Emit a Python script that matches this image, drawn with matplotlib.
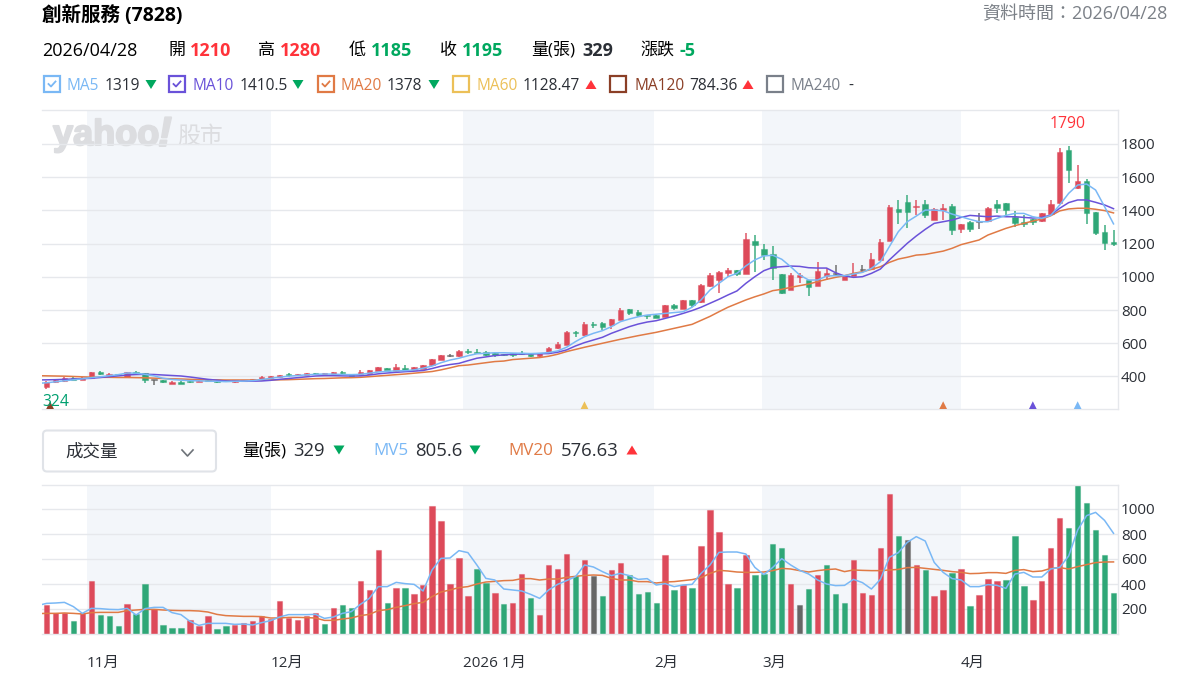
"""K-line and volume panels for 創新服務 (7828)."""

import matplotlib

matplotlib.use("Agg")
import matplotlib.patheffects as pe
import matplotlib.pyplot as plt
import numpy as np
from matplotlib.colors import to_rgba
from matplotlib.patches import FancyBboxPatch, Rectangle

plt.rcParams["font.family"] = ["Open Sans", "Noto Sans CJK TC", "DejaVu Sans"]

# daily candles, one row of ten per block
opens = [
    335, 365, 371, 393, 381, 393, 429, 405, 412, 399,
    429, 421, 377, 377, 357, 369, 371, 368, 375, 373,
    374, 365, 372, 376, 383, 391, 395, 415, 409, 409,
    421, 409, 415, 429, 413, 413, 413, 433, 449, 433,
    451, 437, 448, 469, 500, 525, 522, 550, 548, 550,
    540, 535, 540, 541, 538, 522, 540, 570, 590, 670,
    650, 716, 722, 710, 740, 805, 790, 770, 768, 760,
    832, 807, 860, 847, 943, 981, 1025, 1040, 1020, 1214,
    1168, 1138, 1017, 921, 1000, 979, 945, 1005, 1020, 981,
    1005, 1041, 1045, 1102, 1216, 1409, 1453, 1418, 1439, 1342,
    1403, 1425, 1288, 1332, 1329, 1337, 1437, 1445, 1363, 1332,
    1346, 1337, 1379, 1443, 1762, 1533, 1575, 1391, 1272, 1210,
]
highs = [
    370, 378, 397, 395, 394, 430, 432, 423, 414, 430,
    431, 424, 378, 379, 370, 371, 377, 376, 378, 376,
    378, 379, 380, 384, 400, 403, 412, 419, 417, 422,
    424, 424, 427, 432, 416, 438, 440, 460, 453, 474,
    472, 458, 471, 506, 529, 535, 557, 565, 563, 553,
    542, 538, 542, 555, 540, 541, 576, 606, 672, 672,
    726, 728, 727, 748, 815, 808, 800, 772, 770, 832,
    835, 862, 862, 955, 1021, 1034, 1055, 1042, 1266, 1252,
    1198, 1186, 1020, 1021, 1021, 981, 1092, 1051, 1071, 1013,
    1085, 1071, 1142, 1226, 1433, 1462, 1493, 1462, 1462, 1413,
    1437, 1437, 1318, 1334, 1383, 1419, 1463, 1447, 1395, 1372,
    1348, 1387, 1463, 1778, 1790, 1674, 1592, 1393, 1310, 1280,
]
lows = [
    324, 362, 368, 378, 378, 390, 408, 402, 405, 396,
    412, 363, 349, 363, 355, 356, 362, 366, 370, 361,
    369, 363, 370, 373, 381, 389, 393, 397, 408, 408,
    412, 407, 412, 418, 402, 405, 410, 431, 437, 428,
    431, 434, 446, 465, 498, 515, 520, 535, 535, 525,
    520, 526, 520, 530, 520, 520, 538, 564, 588, 640,
    645, 694, 680, 686, 738, 771, 760, 747, 750, 758,
    800, 805, 820, 845, 941, 905, 1000, 1003, 1018, 1027,
    1100, 981, 897, 919, 965, 885, 943, 981, 1006, 979,
    1003, 1026, 1043, 1100, 1214, 1318, 1292, 1372, 1352, 1340,
    1342, 1252, 1266, 1272, 1288, 1335, 1385, 1373, 1302, 1302,
    1312, 1332, 1377, 1441, 1567, 1527, 1320, 1252, 1164, 1185,
]
closes = [
    365, 378, 393, 381, 393, 429, 413, 417, 407, 429,
    413, 377, 377, 365, 369, 357, 367, 374, 372, 365,
    372, 378, 378, 382, 399, 401, 411, 407, 415, 421,
    413, 422, 425, 419, 403, 429, 438, 457, 439, 457,
    437, 457, 467, 504, 528, 525, 552, 545, 543, 530,
    530, 528, 530, 536, 522, 540, 574, 596, 670, 660,
    716, 712, 700, 746, 800, 785, 770, 766, 752, 830,
    812, 860, 830, 950, 1010, 1032, 1040, 1015, 1228, 1194,
    1132, 1051, 905, 1009, 1010, 937, 1033, 1023, 1020, 1011,
    1023, 1041, 1105, 1212, 1423, 1389, 1389, 1425, 1375, 1411,
    1417, 1282, 1316, 1288, 1329, 1417, 1417, 1403, 1327, 1318,
    1330, 1385, 1437, 1754, 1643, 1575, 1387, 1262, 1206, 1195,
]
volumes = [
    229, 165, 165, 101, 165, 421, 152, 141, 61, 240,
    157, 400, 197, 69, 51, 51, 109, 61, 141, 40,
    61, 72, 91, 101, 141, 120, 261, 131, 109, 141,
    171, 80, 211, 229, 211, 421, 352, 672, 251, 371,
    371, 320, 392, 1021, 901, 400, 611, 301, 520, 411,
    331, 240, 251, 480, 291, 152, 552, 520, 640, 461,
    592, 467, 301, 512, 571, 472, 320, 339, 251, 632,
    352, 392, 371, 701, 992, 813, 400, 371, 632, 472,
    480, 720, 691, 400, 232, 360, 472, 552, 320, 251,
    592, 331, 312, 691, 1120, 781, 752, 552, 512, 301,
    352, 491, 520, 221, 312, 440, 421, 432, 781, 381,
    272, 421, 691, 931, 851, 1192, 1051, 832, 632, 329,
]
# r = up, g = down, k = flat
volume_dirs = (
    "rrrgrrgggrggrgggrrrggrrrrrrrrrr"
    "grggrrrgrgrrrrrrrggrgrrgrrrrgrk"
    "grrggggrgrgrrrrgrggggrkgrgggrrr"
    "rrgkrgrrgrgrrrgggrrrrgggggg"
)

# moving averages: the first value lies one day before the first candle
ma5 = [
    359,
    362, 368, 374, 380, 386, 393, 398, 405, 411, 421,
    420, 413, 404, 389, 382, 378, 375, 374, 372, 371,
    369, 371, 372, 375, 382, 389, 396, 402, 406, 410,
    413, 415, 414, 412, 411, 413, 420, 427, 431, 434,
    435, 440, 450, 463, 483, 499, 510, 525, 537, 540,
    543, 543, 541, 540, 538, 540, 544, 554, 576, 610,
    640, 660, 676, 700, 730, 746, 760, 770, 775, 780,
    785, 790, 817, 861, 921, 961, 1001, 1021, 1066, 1102,
    1126, 1130, 1106, 1061, 1011, 981, 981, 1005, 1007, 1007,
    1017, 1027, 1051, 1091, 1182, 1272, 1332, 1366, 1402, 1402,
    1398, 1378, 1362, 1346, 1332, 1332, 1352, 1370, 1382, 1382,
    1362, 1352, 1370, 1433, 1503, 1553, 1559, 1523, 1423, 1319,
]
ma10 = [
    379,
    380, 381, 383, 385, 387, 389, 394, 399, 404, 409,
    412, 413, 412, 409, 406, 403, 397, 390, 383, 378,
    373, 372, 372, 372, 373, 377, 383, 388, 393, 398,
    403, 405, 405, 404, 403, 404, 409, 416, 421, 425,
    429, 432, 436, 448, 462, 472, 479, 495, 510, 518,
    526, 530, 534, 535, 536, 537, 538, 546, 560, 584,
    604, 620, 636, 660, 680, 700, 716, 728, 736, 750,
    764, 780, 797, 817, 841, 865, 891, 915, 961, 1001,
    1037, 1057, 1061, 1065, 1063, 1055, 1053, 1053, 1025, 1005,
    997, 1001, 1021, 1047, 1102, 1152, 1202, 1246, 1286, 1322,
    1332, 1342, 1358, 1370, 1366, 1362, 1366, 1362, 1362, 1358,
    1354, 1358, 1372, 1413, 1447, 1463, 1463, 1449, 1433, 1410.5,
]
ma20 = [
    405,
    404, 403, 402, 400, 398, 396, 395, 395, 394, 394,
    393, 392, 390, 388, 386, 385, 383, 381, 380, 380,
    379, 379, 379, 379, 379, 379, 380, 381, 383, 385,
    387, 388, 390, 392, 393, 395, 399, 403, 407, 411,
    415, 420, 425, 430, 440, 452, 465, 469, 476, 483,
    490, 493, 502, 506, 510, 514, 522, 534, 550, 563,
    576, 588, 600, 612, 624, 635, 646, 656, 666, 678,
    690, 702, 714, 738, 762, 790, 817, 839, 861, 880,
    897, 917, 925, 937, 947, 957, 971, 985, 997, 1007,
    1021, 1031, 1045, 1061, 1087, 1107, 1118, 1131, 1135, 1145,
    1155, 1172, 1194, 1208, 1222, 1252, 1272, 1292, 1308, 1322,
    1336, 1348, 1368, 1397, 1409, 1413, 1413, 1407, 1399, 1385,
]
mv5 = [
    227,
    245, 248, 253, 219, 165, 205, 203, 197, 195, 205,
    152, 203, 213, 213, 171, 155, 101, 69, 85, 85,
    85, 77, 80, 72, 91, 107, 136, 155, 155, 155,
    157, 125, 136, 165, 179, 237, 285, 379, 379, 413,
    403, 397, 344, 512, 605, 608, 667, 651, 552, 445,
    432, 360, 352, 344, 317, 285, 352, 397, 427, 459,
    552, 536, 499, 467, 485, 467, 437, 443, 392, 403,
    379, 392, 397, 485, 552, 653, 656, 656, 640, 533,
    475, 533, 603, 552, 509, 480, 432, 400, 387, 389,
    437, 411, 360, 437, 613, 651, 733, 779, 744, 573,
    493, 443, 432, 379, 379, 395, 389, 365, 480, 493,
    456, 456, 520, 533, 624, 832, 947, 973, 909, 805.6,
]
mv20 = [
    163,
    165, 165, 168, 165, 160, 171, 173, 173, 173, 187,
    192, 197, 197, 192, 189, 187, 187, 184, 176, 157,
    147, 144, 141, 141, 139, 128, 128, 133, 133, 131,
    128, 109, 109, 120, 128, 147, 157, 187, 195, 213,
    227, 243, 253, 299, 336, 352, 371, 379, 400, 416,
    421, 427, 429, 443, 443, 432, 440, 440, 453, 461,
    469, 472, 469, 445, 432, 432, 419, 419, 408, 416,
    419, 427, 435, 451, 485, 509, 504, 496, 493, 493,
    496, 507, 525, 520, 507, 496, 507, 515, 520, 499,
    512, 509, 507, 507, 512, 517, 531, 533, 525, 517,
    509, 499, 493, 483, 485, 491, 491, 485, 509, 515,
    499, 504, 525, 531, 520, 539, 555, 571, 576, 576.63,
]

price_ticks = [400, 600, 800, 1000, 1200, 1400, 1600, 1800]
volume_ticks = [200, 400, 600, 800, 1000]
month_labels = ["11月", "12月", "2026 1月", "2月", "3月", "4月"]
month_starts = [4.5, 25.0, 46.45, 67.75, 79.8, 102.0]
shaded_months = [(4.5, 25.0), (46.45, 67.75), (79.8, 102.0)]

# crossover markers along the bottom of the price panel
cross_days = [0.4, 60, 100, 110, 115]
cross_colors = ["#8b3f26", "#ecc058", "#e07a45", "#6a52d9", "#7ab8f5"]

RED = "#dd4a5a"
GREEN = "#2fa777"
GRAY = "#666666"
GRID = "#e6e8ec"
BAND = "#f3f6fa"
TEXT = "#2b2f36"
UP = "#ff333a"
DOWN = "#00a85f"
C_MA5 = "#7ab8f5"
C_MA10 = "#6a52d9"
C_MA20 = "#e07a45"
C_MA60 = "#ecc058"
C_MA120 = "#8b3f26"
C_MA240 = "#7a808a"

W, H = 1202, 678
AX_L, AX_R = 42, 1118

days = np.arange(len(closes))
line_days = np.arange(-1, len(closes))

fig = plt.figure(figsize=(W / 100, H / 100), dpi=100, facecolor="white")
ax = fig.add_axes([AX_L / W, 1 - 409 / H, (AX_R - AX_L) / W, 299 / H])
vax = fig.add_axes([AX_L / W, 1 - 634 / H, (AX_R - AX_L) / W, 149.5 / H])

for a in (ax, vax):
    a.set_xlim(-0.5, len(closes) - 0.5)
    a.set_axisbelow(True)
    a.grid(axis="y", color=GRID, lw=1.0)
    a.yaxis.tick_right()
    a.tick_params(axis="y", length=0, pad=2, labelsize=11, labelcolor=TEXT)
    a.spines["left"].set_visible(False)
    for side in ("top", "right", "bottom"):
        a.spines[side].set_color(GRID)
        a.spines[side].set_linewidth(1.0)
    for start, end in shaded_months:
        a.axvspan(start, end, color=BAND, lw=0, zorder=0)

# price panel
ax.set_ylim(204.3, 2004.7)
ax.set_yticks(price_ticks)
ax.set_xticks([])
candle_colors = [
    GRAY if c == o else (RED if c > o else GREEN) for o, c in zip(opens, closes)
]
wick_colors = [to_rgba(c, 0.85) for c in candle_colors]
ax.vlines(days, lows, highs, colors=wick_colors, lw=1.2, zorder=2)
bottoms = np.minimum(opens, closes)
heights = np.maximum(np.abs(np.subtract(closes, opens)), 6)
ax.bar(days, heights, bottom=bottoms, width=0.62, color=candle_colors,
       edgecolor=[to_rgba(c, 0.45) for c in candle_colors], lw=0.8, zorder=2.5)
ax.plot(line_days, ma20, color=C_MA20, lw=1.1, zorder=3)
ax.plot(line_days, ma10, color=C_MA10, lw=1.1, zorder=3.1)
ax.plot(line_days, ma5, color=C_MA5, lw=1.1, zorder=3.2)
ax.scatter(cross_days, [225] * len(cross_days), marker="^", s=38,
           c=cross_colors, lw=0, zorder=4, clip_on=True)

top_day = int(np.argmax(highs))
low_day = int(np.argmin(lows))
ax.annotate(str(highs[top_day]), (days[top_day], highs[top_day]),
            xytext=(-1, 15.6), textcoords="offset points", ha="center",
            va="center", color=UP, fontsize=11.3, zorder=5)
ax.annotate(str(lows[low_day]), (-0.5, 204.3), xytext=(0, 4.7),
            textcoords="offset points", ha="left", va="center",
            color="#00a070", fontsize=11.3, zorder=5)

# volume panel
vax.set_ylim(0, 1196)
vax.set_yticks(volume_ticks)
dir_colors = {"r": RED, "g": GREEN, "k": GRAY}
bar_colors = [dir_colors[d] for d in volume_dirs]
vax.bar(days, volumes, width=0.6, color=bar_colors,
        edgecolor=[to_rgba(c, 0.4) for c in bar_colors], lw=0.8, zorder=2)
vax.plot(line_days, mv20, color=C_MA20, lw=1.1, zorder=3)
vax.plot(line_days, mv5, color=C_MA5, lw=1.1, zorder=3.1)
vax.set_xticks(month_starts, month_labels, ha="left")
vax.tick_params(axis="x", length=0, pad=16, labelsize=11, labelcolor=TEXT)

# everything above and between the panels is placed in pixels
over = fig.add_axes([0, 0, 1, 1])
over.set_xlim(0, W)
over.set_ylim(H, 0)
over.axis("off")
over.patch.set_alpha(0)


def label(x, y, text, color="black", px=17, weight="normal", ha="left"):
    over.text(x, y, text, color=color, fontsize=px * 0.72, fontweight=weight,
              ha=ha, va="center")


def triangle(x, y, up):
    ys = [y + 4.5, y + 4.5, y - 4.5] if up else [y - 4.5, y - 4.5, y + 4.5]
    over.fill([x - 5.5, x + 5.5, x], ys, color=UP if up else DOWN, lw=0)


def checkbox(x, y, color, checked):
    over.add_patch(Rectangle((x, y - 8), 16, 16, fc="white", ec=color, lw=1.6))
    if checked:
        over.plot([x + 4.5, x + 7, x + 11.5], [y, y + 2.5, y - 2.5], color=color,
                  lw=1.3)


label(42, 16, "創新服務 (7828)", px=19.5, weight="bold")
label(1167, 14, "資料時間：2026/04/28", color="#7b8087", px=18, ha="right")

label(42, 50.5, "2026/04/28", px=18)
quote_row = [
    (168, "開", 190, "1210", UP),
    (258, "高", 280, "1280", UP),
    (349, "低", 371, "1185", DOWN),
    (440, "收", 462, "1195", DOWN),
    (531, "量(張)", 582, "329", TEXT),
    (640, "漲跌", 679, "-5", DOWN),
]
for x_name, name, x_val, val, color in quote_row:
    label(x_name, 50.5, name, px=17)
    label(x_val, 50.5, val, color=color, px=18, weight="bold")

legend_row = [
    (44, "MA5", 67, "1319", 105, 151, C_MA5, True, False),
    (169, "MA10", 193, "1410.5", 240, 298, C_MA10, True, False),
    (318, "MA20", 341, "1378", 387, 434, C_MA20, True, False),
    (453, "MA60", 476, "1128.47", 523, 591, C_MA60, False, True),
    (610, "MA120", 634, "784.36", 689, 748, C_MA120, False, True),
]
for x_box, name, x_name, val, x_val, x_tri, color, checked, up in legend_row:
    checkbox(x_box, 84, color, checked)
    label(x_name, 86, name, color=color, px=15.5)
    label(x_val, 86, val, color=TEXT, px=15.5)
    triangle(x_tri, 84.5, up)
checkbox(767, 84, C_MA240, False)
label(791, 86, "MA240", color=C_MA240, px=15.5)
label(848, 86, "-", color=TEXT, px=15.5)

over.add_patch(FancyBboxPatch((43, 430.5), 173, 41,
                              boxstyle="round,pad=0,rounding_size=4",
                              fc="white", ec="#e0e3e8", lw=1.5))
label(65, 452, "成交量", color=TEXT, px=17.5)
over.plot([182, 187.5, 193], [450, 456, 450], color="#6e7379", lw=1.2)

label(242, 451, "量(張)", px=17)
label(293, 451, "329", color=TEXT, px=18.5)
triangle(339, 450, False)
label(373, 451, "MV5", color=C_MA5, px=17)
label(415, 451, "805.6", color=TEXT, px=18.5)
triangle(475, 450, False)
label(508, 451, "MV20", color=C_MA20, px=17)
label(561, 451, "576.63", color=TEXT, px=18.5)
triangle(632, 450, True)

# watermark, under the grid of the price panel
WATERMARK = "#dcdde0"
heavy = [pe.withStroke(linewidth=1.4, foreground=WATERMARK)]
ax.text(53, 145, "yahoo", color=WATERMARK, fontsize=26, fontweight="bold",
        family=["Liberation Sans"], ha="left", va="baseline", zorder=0.3,
        transform=over.transData, path_effects=heavy)
ax.text(158, 146, "!", color=WATERMARK, fontsize=30, fontweight="bold", style="italic",
        family=["Liberation Sans"], ha="left", va="baseline", zorder=0.3,
        transform=over.transData, path_effects=heavy)
ax.text(177, 137, "股市", color=WATERMARK, fontsize=16.5, ha="left", va="center",
        zorder=0.3, transform=over.transData)

fig.savefig("out.png", dpi=100, facecolor="white")
